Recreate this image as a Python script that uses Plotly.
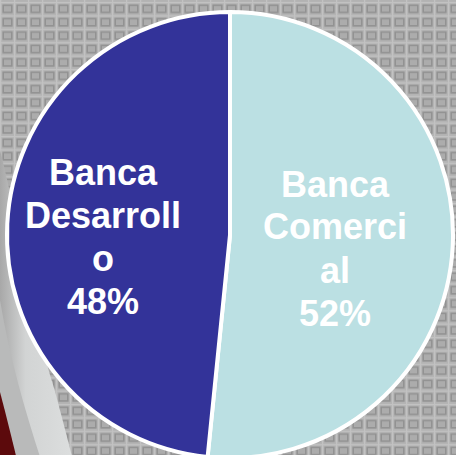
import base64
import plotly.graph_objects as go

# ---- data ----
labels = ["Banca Comercial", "Banca Desarrollo"]
values = [51.6, 48.4]
label_lines = [["Banca", "Comerci", "al"], ["Banca", "Desarroll", "o"]]
colors = ["#bbe0e3", "#333399"]

W, H = 456, 460   # slightly taller than the window so the pie runs off the bottom edge

# ---- textured background as inline SVG ----
svg = f'''<svg xmlns="http://www.w3.org/2000/svg" width="{W}" height="{H}" viewBox="0 0 {W} {H}">
<defs>
<pattern id="p" x="0" y="2" width="14" height="13.4" patternUnits="userSpaceOnUse">
<rect width="14" height="13.4" fill="#b4b4b4"/>
<rect x="0" y="0" width="14" height="1.2" fill="#c2c2c2"/>
<rect x="0" y="0" width="1.2" height="13.4" fill="#c2c2c2"/>
<rect x="3.2" y="3.2" width="8.6" height="7.2" fill="#acacac" stroke="#929292" stroke-width="1.6"/>
</pattern>
<linearGradient id="sw" x1="0" y1="0" x2="1" y2="0">
<stop offset="0" stop-color="#a8a8a8"/>
<stop offset="0.35" stop-color="#d2d4d4"/>
<stop offset="1" stop-color="#dcdede"/>
</linearGradient>
</defs>
<rect width="{W}" height="{H}" fill="url(#p)"/>
<path d="M0,150 C20,230 35,320 50,375 C58,400 65,430 73,460 L0,460 Z" fill="url(#sw)"/>
<path d="M0,300 C10,360 25,410 41,460 L0,460 Z" fill="#b9baba"/>
<path d="M0,392 C6,415 11,435 17,460 L0,460 Z" fill="#5c0a0c"/>
</svg>'''
src = "data:image/svg+xml;base64," + base64.b64encode(svg.encode()).decode()

fig = go.Figure()
fig.add_trace(go.Pie(
    labels=labels,
    values=values,
    marker=dict(colors=colors, line=dict(color="white", width=4)),
    sort=False,
    direction="clockwise",
    rotation=0,
    textinfo="none",
    hoverinfo="label+percent",
    showlegend=False,
    domain=dict(x=[7 / W, 453 / W], y=[2 / H, 1 - 12 / H]),
))

# label text: each line as annotation (pixel centers of lines)
line_gap = 43
block_first = [184, 172]   # y pixel center of first line per slice
block_x = [335, 103]       # x pixel center per slice
total = sum(values)
for i, lab in enumerate(labels):
    lines = label_lines[i] + [f"{round(values[i] / total * 100)}%"]
    for j, t in enumerate(lines):
        y_px = block_first[i] + j * line_gap
        fig.add_annotation(
            x=block_x[i] / W, y=1 - y_px / H, xref="paper", yref="paper",
            text=f"<b>{t}</b>", showarrow=False,
            font=dict(family="Liberation Sans, Arial, sans-serif", size=36, color="white"),
            xanchor="center", yanchor="middle",
        )

fig.update_layout(
    width=W, height=H,
    margin=dict(l=0, r=0, t=0, b=0),
    paper_bgcolor="#b4b4b4",
    plot_bgcolor="rgba(0,0,0,0)",
    images=[dict(source=src, xref="paper", yref="paper", x=0, y=1,
                 sizex=1, sizey=1, xanchor="left", yanchor="top",
                 sizing="stretch", layer="below")],
)

fig.write_html("out.html", config={"displayModeBar": False},
               post_script="document.body.style.margin='0';document.body.style.overflow='hidden';")
